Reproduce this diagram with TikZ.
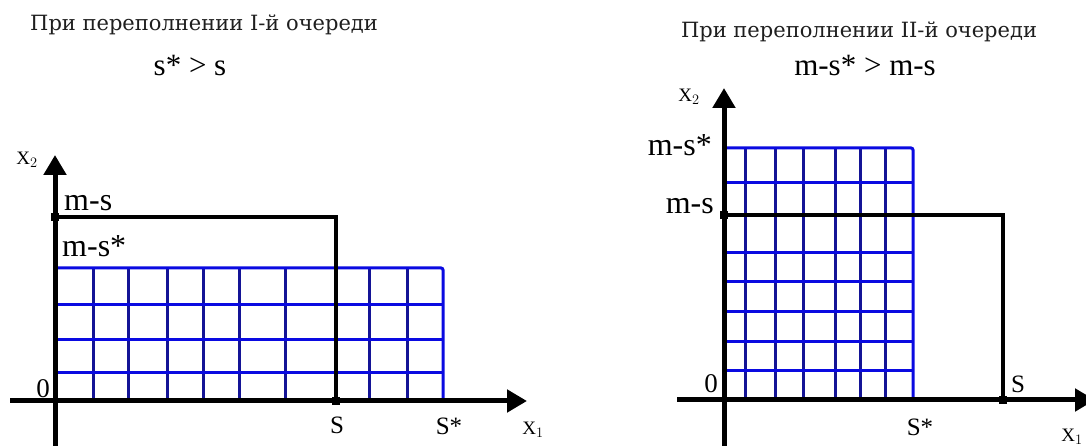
\documentclass[tikz,border=0pt]{standalone}
\usepackage{fontspec}
\setmainfont{Liberation Serif}
\newfontfamily\titlefont{DejaVu Serif}
\usetikzlibrary{arrows.meta}
\definecolor{gridblue}{RGB}{10,10,225}
\definecolor{gridnavy}{RGB}{20,20,150}
\definecolor{txtgray}{RGB}{30,30,30}
\begin{document}
\begin{tikzpicture}[x=1pt,y=1pt,
  axisline/.style={line width=5pt,-{Triangle[length=20pt,width=22pt]}},
  bound/.style={line width=4pt,black},
  hgrid/.style={line width=3pt,gridblue},
  vgrid/.style={line width=3pt,gridnavy},
  dot/.style={fill=black,minimum size=8pt,inner sep=0pt,rectangle},
  ttl/.style={font=\titlefont\fontsize{21}{24}\selectfont,text=txtgray,inner sep=0pt},
  frm/.style={font=\fontsize{31}{33}\selectfont,inner sep=0pt},
  lbl/.style={font=\fontsize{32}{34}\selectfont,inner sep=0pt},
  slbl/.style={font=\fontsize{25}{27}\selectfont,inner sep=0pt},
  zlbl/.style={font=\fontsize{27}{29}\selectfont,inner sep=0pt},
  axl/.style={font=\fontsize{19}{21}\selectfont,inner sep=0pt}
]
\useasboundingbox (0,0) rectangle (1086,446);
% ---------- left ----------
\coordinate (LO) at (55,45);
\coordinate (Lxs) at (10,45);
\coordinate (Lxe) at (527,45);
\coordinate (Lys) at (55,0);
\coordinate (Lye) at (55,291);
\coordinate (Lms) at (55,229);
\coordinate (Lc) at (336,229);
\coordinate (Ls) at (336,45);
\foreach \x in {93,128,167,203,239,285,369,407} \draw[vgrid] (\x,45) -- (\x,178);
\foreach \y in {73,106,141} \draw[hgrid] (55,\y) -- (443,\y);
\draw[hgrid,rounded corners=2pt] (55,178) -- (443,178) -- (443,45);
\draw[bound] (Lms) -- (Lc) -- (Ls);
\draw[axisline] (Lxs) -- (Lxe);
\draw[axisline] (Lys) -- (Lye);
\node[dot] (Ldot1) at (Lms) {};
\node[dot] (Ldot2) at (Ls) {};
\node[ttl] (Lt) at (204,421) {При переполнении I-й очереди};
\node[frm] (Lf) at (190,380) {s* > s};
\node[axl] (Lx2) at (27,286) {X$_2$};
\node[lbl,anchor=west] (Lmsl) at (64,243) {m-s};
\node[lbl,anchor=west] (Lmssl) at (62,200) {m-s*};
\node[zlbl] (L0) at (43,57) {0};
\node[slbl] (Lsl) at (337,21) {S};
\node[slbl] (Lssl) at (449,20) {S*};
\node[axl] (Lx1) at (533,16) {X$_1$};
% ---------- right ----------
\coordinate (RO) at (724,46);
\coordinate (Rxs) at (677,46);
\coordinate (Rxe) at (1095,46);
\coordinate (Rys) at (724,0);
\coordinate (Rye) at (724,358);
\coordinate (Rms) at (724,231);
\coordinate (Rc) at (1003,231);
\coordinate (Rs) at (1003,46);
\foreach \x in {745,775,803,835,860,885} \draw[vgrid] (\x,46) -- (\x,298);
\foreach \y in {75,104,134,164,193,231,263} \draw[hgrid] (724,\y) -- (913,\y);
\draw[hgrid,rounded corners=2pt] (724,298) -- (913,298) -- (913,46);
\draw[bound] (Rms) -- (Rc) -- (Rs);
\draw[axisline] (Rxs) -- (Rxe);
\draw[axisline] (Rys) -- (Rye);
\node[dot] (Rdot1) at (Rms) {};
\node[dot] (Rdot2) at (Rs) {};
\node[ttl] (Rt) at (859,414) {При переполнении II-й очереди};
\node[frm] (Rf) at (865,380) {m-s* > m-s};
\node[axl] (Rx2) at (689,349) {X$_2$};
\node[lbl,anchor=east] (Rmssl) at (712,301) {m-s*};
\node[lbl,anchor=east] (Rmsl) at (714,240) {m-s};
\node[zlbl] (R0) at (711,62) {0};
\node[slbl] (Rsl) at (1018,62) {S};
\node[slbl] (Rssl) at (920,19) {S*};
\node[axl] (Rx1) at (1072,9) {X$_1$};
\end{tikzpicture}
\end{document}
